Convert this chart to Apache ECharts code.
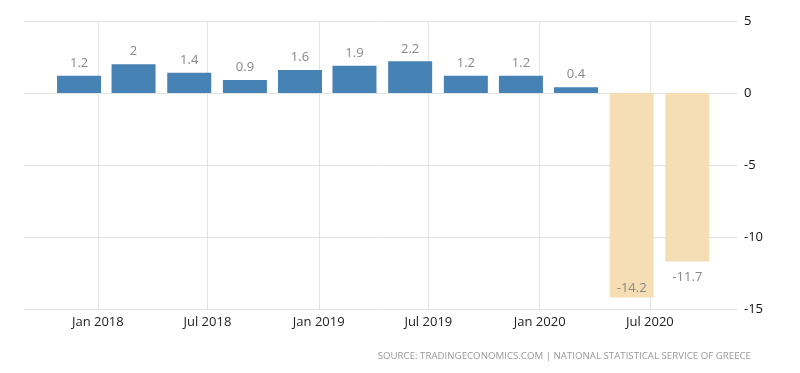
<!DOCTYPE html>
<html>
<head>
<meta charset="utf-8">
<script src="https://cdn.jsdelivr.net/npm/echarts@6/dist/echarts.min.js"></script>
<style>html,body{margin:0;padding:0;background:#fff;}#c{width:800px;height:373px;}</style>
</head>
<body>
<div id="c"></div>
<script>
// Quarterly GDP growth (YoY %), Greece
const categories = ['Q4 2017','Q1 2018','Q2 2018','Q3 2018','Q4 2018','Q1 2019','Q2 2019','Q3 2019','Q4 2019','Q1 2020','Q2 2020','Q3 2020'];
const barDates = ['2017-12-01','2018-03-01','2018-06-01','2018-09-01','2018-12-01','2019-03-01','2019-06-01','2019-09-01','2019-12-01','2020-03-01','2020-06-01','2020-09-01'];
const values = [1.2, 2, 1.4, 0.9, 1.6, 1.9, 2.2, 1.2, 1.2, 0.4, -14.2, -11.7];
const tickDates = ['2018-01-01','2018-07-01','2019-01-01','2019-07-01','2020-01-01','2020-07-01'];
const tickLabels = ['Jan 2018','Jul 2018','Jan 2019','Jul 2019','Jan 2020','Jul 2020'];
const sourceText = 'SOURCE: TRADINGECONOMICS.COM | NATIONAL STATISTICAL SERVICE OF GREECE';

const ts = s => Date.UTC(+s.slice(0, 4), +s.slice(5, 7) - 1, +s.slice(8, 10));
const tickTs = tickDates.map(ts);

const data = values.map((v, i) => {
  let label;
  if (v >= 0) label = { position: 'top', distance: 6 };
  else if (i === 10) label = { position: 'insideBottom', distance: 3 };
  else label = { position: 'bottom', distance: 9 };
  return {
    name: categories[i],
    value: [ts(barDates[i]), v],
    itemStyle: { color: v >= 0 ? '#4682b4' : '#f5deb3' },
    label: label
  };
});

const chart = echarts.init(document.getElementById('c'), null, { renderer: 'canvas' });
chart.setOption({
  animation: false,
  backgroundColor: '#fff',
  grid: { left: 24, right: 63, top: 21, bottom: 64, containLabel: false },
  xAxis: {
    type: 'value',
    min: ts('2017-09-01'),
    max: ts('2020-11-22'),
    axisLine: { show: false },
    axisTick: { show: true, customValues: tickTs, length: 5, lineStyle: { color: '#e3e3e3' } },
    splitLine: { show: true, lineStyle: { color: '#e3e3e3', width: 1 } },
    axisLabel: {
      customValues: tickTs,
      color: '#222',
      fontFamily: 'Open Sans',
      fontSize: 13,
      margin: 7,
      formatter: function (val) {
        const idx = tickTs.indexOf(val);
        return idx >= 0 ? tickLabels[idx] : '';
      }
    }
  },
  yAxis: {
    type: 'value',
    position: 'right',
    min: -15,
    max: 5,
    interval: 5,
    axisLine: { show: false },
    axisTick: { show: false },
    splitLine: { show: true, lineStyle: { color: '#e3e3e3', width: 1 } },
    axisLabel: { color: '#111', fontFamily: 'Open Sans', fontSize: 13, margin: 7 }
  },
  series: [{
    type: 'bar',
    barWidth: 44,
    data: data,
    label: {
      show: true,
      color: '#888',
      fontFamily: 'Open Sans',
      fontSize: 13,
      formatter: p => String(p.value[1])
    }
  }],
  graphic: [{
    type: 'text',
    right: 49,
    top: 351,
    style: { text: sourceText, fill: '#999', font: '9.7px "Open Sans"' }
  }]
});
</script>
</body>
</html>
